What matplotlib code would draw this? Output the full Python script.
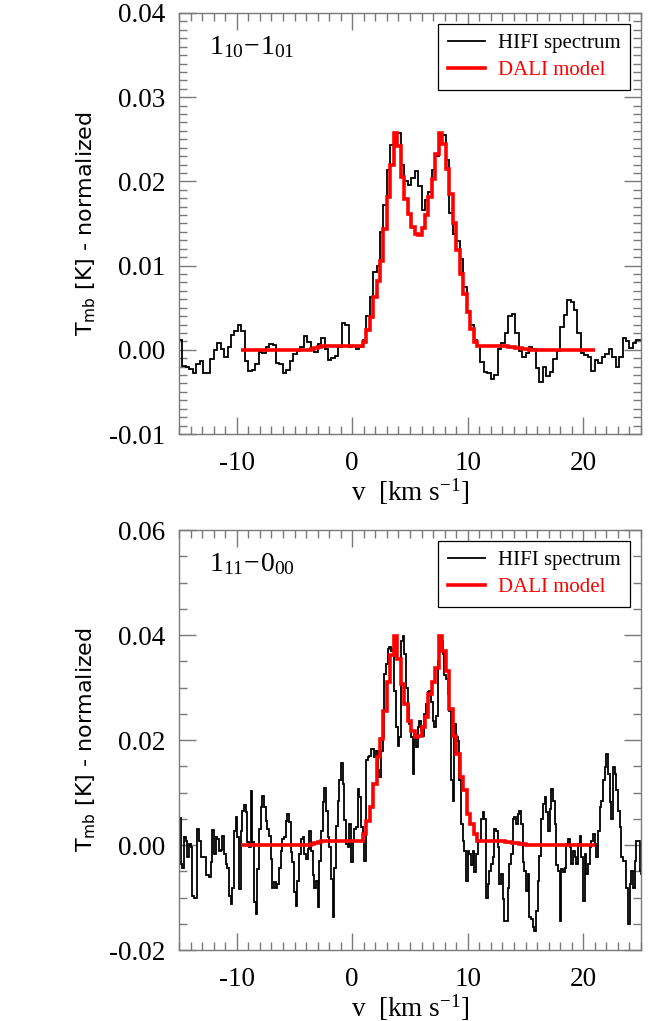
import numpy as np
import matplotlib
matplotlib.use('Agg')
import matplotlib.pyplot as plt
from matplotlib.ticker import MultipleLocator, FormatStrFormatter
from matplotlib.lines import Line2D

# ---------------- data ----------------
V0 = -15.0          # first channel edge of the spectra [km/s]
DV_TOP = 0.3        # channel width, 1_10-1_01 spectrum
DV_BOT = 0.1445     # channel width, 1_11-0_00 spectrum
MODEL_V0 = -9.6     # first channel edge of the model
DV_MODEL = 0.3

hifi_top = [
    0.0012, -0.0019, -0.0021, -0.0023, -0.0028, -0.0017, -0.0013, -0.0028, -0.0027, -0.0011,
    0.0000, 0.0008, 0.0001, -0.0009, 0.0003, 0.0018, 0.0022, 0.0030, 0.0022, -0.0013,
    -0.0025, -0.0024, -0.0017, -0.0003, -0.0004, 0.0003, 0.0007, 0.0006, -0.0016, -0.0017,
    -0.0028, -0.0024, -0.0013, -0.0005, -0.0002, 0.0003, 0.0016, 0.0009, 0.0001, -0.0003,
    0.0007, 0.0014, 0.0001, -0.0012, -0.0010, -0.0007, 0.0003, 0.0032, 0.0030, 0.0003,
    0.0004, 0.0001, 0.0003, 0.0012, 0.0040, 0.0063, 0.0092, 0.0100, 0.0140, 0.0172,
    0.0213, 0.0243, 0.0257, 0.0257, 0.0220, 0.0200, 0.0196, 0.0204, 0.0212, 0.0195,
    0.0166, 0.0178, 0.0188, 0.0214, 0.0230, 0.0252, 0.0255, 0.0225, 0.0163, 0.0138,
    0.0129, 0.0108, 0.0075, 0.0046, 0.0030, 0.0012, 0.0004, -0.0015, -0.0026, -0.0027,
    -0.0035, -0.0030, 0.0001, 0.0008, 0.0020, 0.0040, 0.0043, 0.0020, -0.0001, -0.0008,
    -0.0004, 0.0003, 0.0001, -0.0022, -0.0038, -0.0020, -0.0031, -0.0026, -0.0011, -0.0002,
    0.0027, 0.0041, 0.0059, 0.0057, 0.0047, 0.0020, -0.0004, -0.0006, -0.0009, -0.0025,
    -0.0012, -0.0016, -0.0008, -0.0005, 0.0001, -0.0008, -0.0020, -0.0008, 0.0014, 0.0010,
    0.0002, 0.0008, 0.0012, 0.0012,
]

dali_top = ([0.0] * 20 + [0.0001, 0.0002, 0.0003] + [0.0004] * 12 + [
    0.0009, 0.0023, 0.0039, 0.0063, 0.0082, 0.0106, 0.0144, 0.0182, 0.0220, 0.0257,
    0.0242, 0.0205, 0.0179, 0.0161, 0.0146, 0.0137, 0.0136, 0.0145, 0.0160, 0.0181,
    0.0203, 0.0232, 0.0257, 0.0245, 0.0215, 0.0185, 0.0150, 0.0118, 0.0090, 0.0066,
    0.0045, 0.0025, 0.0009]
    + [0.0004] * 9 + [0.0003, 0.0003, 0.0002, 0.0002, 0.0001, 0.0001] + [0.0] * 19)

# 1_11-0_00 spectrum in mK
hifi_bot_mK = [
    5.1, -3.6, -4.3, 1.5, 0.8, -2.3, 0.2, -0.3, -9.7, -10.1,
    -10.1, 3.0, 0.8, -2.3, -2.3, -2.3, -5.8, -5.8, -6.0, -3.3,
    2.9, -1.7, 1.5, 1.1, -1.1, -1.0, 1.8, -1.7, -3.6, -4.3,
    -9.7, -11.2, -8.1, 2.7, 5.4, 1.5, -8.4, 2.7, 6.4, 7.7,
    6.2, 0.5, -0.4, 10.2, 0.5, -10.9, -13.1, -4.6, 3.0, 7.2,
    9.4, 7.2, 4.6, 3.0, 1.8, -2.7, -8.1, -7.1, -8.1, -7.4,
    -4.3, -1.1, 1.1, 1.5, 4.6, 5.9, 4.3, -1.4, -3.3, -9.0,
    -11.6, -6.8, -1.7, 1.1, 1.5, -1.7, -2.7, -0.8, 2.6, -1.1,
    -5.8, -8.1, -6.8, -11.9, -3.0, 2.7, 8.1, 10.9, 6.5, 1.5,
    -0.4, -6.5, -13.8, -4.3, 3.7, 8.4, 12.4, 15.6, 11.6, 4.8,
    0.2, -0.4, 4.0, -3.3, 0.8, 3.0, 3.4, 10.7,
    9.1, 3.4, 0.8, -3.0, 16.1, 16.7, 17.0, 18.3, 18.3, 16.7,
    18.0, 14.2, 12.9, 18.0, 20.5, 32.6, 34.5, 37.3, 37.7, 37.0,
    37.3, 29.4, 22.4, 18.9, 20.5, 38.9, 39.9, 36.4, 30.0, 26.5,
    23.1, 20.5, 13.5, 21.1, 18.6, 22.4, 23.7, 21.8, 20.8, 25.0,
    26.9, 29.1, 29.4, 27.2, 23.7, 22.4, 24.6, 35.1, 38.0, 38.9,
    36.4, 32.3, 31.6, 28.8, 25.6, 12.3, 8.4, 23.1, 20.5, 19.9,
    12.3, 4.0, 0.8, -1.1, -6.8, -1.1, -1.7, -3.9, -1.1, -5.2,
    -1.7, 0.5, 0.8,
    5.0, 6.2, 5.0, -10.0, -7.4, -4.9, -3.6, -2.3, 3.0, 2.7,
    -0.4, -7.4, -5.5, -10.3, -14.4, -14.4, -8.1, -3.6, -1.7, 5.0,
    5.3, 4.0, 5.9, 6.5, 4.0, -3.3, -4.9, -8.7, -5.5, -13.8,
    -14.1, -15.7, -16.3, -12.5, -6.8, -2.0, 5.0, 7.8, 9.1, 6.2,
    2.7, 6.9, 10.7, 8.4, 4.0, -3.9, -4.9, -14.4, -4.6, -5.2,
    -4.3, 0.2, 1.1, -0.4, -3.6, -1.1, -2.3, -3.6, 0.2, 1.8,
    -2.3, -10.6, -1.7, -5.5, -3.6, -0.4, 0.8, 2.1, 0.2, -2.3,
    2.7, 7.2, 8.4, 12.3, 14.8, 17.3, 13.5, 8.1, 5.0, 14.8,
    13.5, 10.4, 6.5, 3.4, -2.3, -3.0, -3.0, -8.1, -15.0, -7.4,
    -4.9, -8.1, -3.0, 0.8, 0.8, -4.9, -5.5,
]

dali_bot = ([0.0] * 20 + [0.0002, 0.0004, 0.0006] + [0.0007] * 11 + [
    0.0008, 0.0021, 0.0046, 0.0072, 0.0116, 0.0167, 0.0202, 0.0256, 0.0310, 0.0361,
    0.0399, 0.0354, 0.0307, 0.0269, 0.0237, 0.0218, 0.0205, 0.0208, 0.0224, 0.0243,
    0.0288, 0.0310, 0.0338, 0.0399, 0.0370, 0.0332, 0.0259, 0.0208, 0.0173, 0.0129,
    0.0104, 0.0059, 0.0040, 0.0021, 0.0008]
    + [0.0007] * 7 + [0.0006, 0.0005, 0.0004, 0.0003, 0.0002, 0.0001] + [0.0] * 20)

transitions = [r'$\mathrm{1_{10}\!-\!1_{01}}$', r'$\mathrm{1_{11}\!-\!0_{00}}$']
legend_labels = ['HIFI spectrum', 'DALI model']
ylims = [(-0.01, 0.04), (-0.02, 0.06)]
ymajor = [0.01, 0.02]
yminor = [0.001, 0.005]

# ---------------- style ----------------
plt.rcParams['font.family'] = ['Liberation Serif', 'DejaVu Serif']
plt.rcParams['mathtext.fontset'] = 'custom'
plt.rcParams['mathtext.rm'] = 'Liberation Serif'
plt.rcParams['mathtext.it'] = 'Liberation Serif:italic'
plt.rcParams['axes.unicode_minus'] = False

fig = plt.figure(figsize=(6.52, 10.21), dpi=100)
L, R = 179 / 652, 641 / 652
ax_top = fig.add_axes([L, 1 - 434 / 1021, R - L, (434 - 13) / 1021])
ax_bot = fig.add_axes([L, 1 - 950 / 1021, R - L, (950 - 530) / 1021])

frame_col = '#7a7a7a'
BLACK_LW = 1.3
RED_LW = 2.6

spectra = [
    (np.array(hifi_top), DV_TOP, np.array(dali_top)),
    (np.array(hifi_bot_mK) * 1e-3, DV_BOT, np.array(dali_bot)),
]

for i, ax in enumerate([ax_top, ax_bot]):
    obs, dv, mod = spectra[i]
    edges = V0 + dv * np.arange(len(obs) + 1)
    medges = MODEL_V0 + DV_MODEL * np.arange(len(mod) + 1)
    ax.stairs(obs, edges, baseline=None, color='black', lw=BLACK_LW, zorder=2)
    ax.stairs(mod, medges, baseline=None, color='red', lw=RED_LW, zorder=3)

    ax.set_xlim(-15, 25)
    ax.set_ylim(*ylims[i])
    ax.xaxis.set_major_locator(MultipleLocator(10))
    ax.xaxis.set_minor_locator(MultipleLocator(1))
    ax.yaxis.set_major_locator(MultipleLocator(ymajor[i]))
    ax.yaxis.set_minor_locator(MultipleLocator(yminor[i]))
    ax.yaxis.set_major_formatter(FormatStrFormatter('%.2f'))
    ax.xaxis.set_major_formatter(FormatStrFormatter('%d'))

    ax.tick_params(which='both', direction='in', top=True, right=True,
                   color=frame_col, width=1.0)
    ax.tick_params(which='major', length=12, labelsize=19.5)
    ax.tick_params(which='minor', length=5.5)
    ax.tick_params(axis='x', which='major', pad=12)
    ax.tick_params(axis='y', which='major', pad=10)
    for sp in ax.spines.values():
        sp.set_color(frame_col)
        sp.set_linewidth(1.0)

    ax.set_xlabel(r'v  [km s$^{-1}$]', fontsize=19.5)
    ax.xaxis.set_label_coords(0.5, -0.1 * (421 / (421 if i == 0 else 420)))
    ax.set_ylabel(r'T$_{\rm mb}$ [K] - normalized', fontsize=16,
                  family='DejaVu Sans', math_fontfamily='dejavusans')
    ax.yaxis.set_label_coords(-0.175, 0.5)

    ax.text(0.065, 0.95, transitions[i], transform=ax.transAxes,
            ha='left', va='top', fontsize=20)

    handles = [Line2D([], [], color='black', lw=BLACK_LW),
               Line2D([], [], color='red', lw=RED_LW)]
    leg = ax.legend(handles, legend_labels, loc='upper right', fontsize=15,
                    frameon=True, fancybox=False, edgecolor='black',
                    framealpha=1, borderaxespad=0.55, handlelength=1.8,
                    handletextpad=0.6, borderpad=0.45, labelspacing=0.35,
                    labelcolor=['black', 'red'])
    leg.get_frame().set_linewidth(0.9)

fig.savefig('out.png', dpi=100)
